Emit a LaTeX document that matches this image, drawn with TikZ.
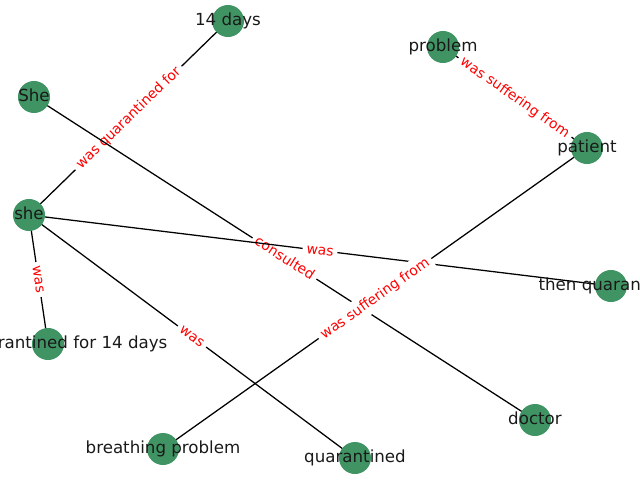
\documentclass[tikz,border=0pt]{standalone}
\usepackage{fontspec}
\setmainfont{DejaVu Sans}
\usetikzlibrary{backgrounds}
\definecolor{nodegreen}{RGB}{64,148,100}

\begin{document}
\begin{tikzpicture}
[x=0.025cm,y=-0.025cm,
 vtx/.style={circle,fill=nodegreen,minimum size=0.8cm,inner sep=0pt,
  label={[text=black!90,text height=0.8em,text depth=0.2em,font=\fontsize{11.85}{14}\selectfont]center:#1}},
 rel/.style={text=red,fill=white,rounded corners=2pt,inner sep=2.8pt,text height=0.8em,text depth=0.2em,
  font=\fontsize{9.9}{12}\selectfont,sloped,midway}]
\clip (0,0) rectangle (640,480);
\node[vtx=14 days] (n1) at (228,21) {};
\node[vtx=She] (n2) at (34,97) {};
\node[vtx=she] (n3) at (29,215) {};
\node[vtx=problem] (n4) at (443,47) {};
\node[vtx=patient] (n5) at (587,148) {};
\node[vtx=then quarantined] (n6) at (611,286) {};
\node[vtx=was quarantined for 14 days] (n7) at (48,344) {};
\node[vtx=breathing problem] (n8) at (163,449) {};
\node[vtx=quarantined] (n9) at (355,458) {};
\node[vtx=doctor] (n10) at (535,420) {};
\begin{scope}[on background layer]
\foreach \from/\to/\rel in {n3/n1/was quarantined for,n2/n10/consulted,n3/n6/was,n3/n7/was,n3/n9/was,n4/n5/was suffering from,n8/n5/was suffering from}
\draw[line width=0.9pt] (\from.center) -- node[rel] {\rel} (\to.center);
\end{scope}
\end{tikzpicture}
\end{document}
